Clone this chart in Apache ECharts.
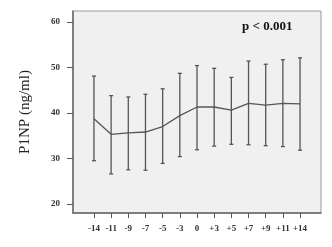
<!DOCTYPE html>
<html><head><meta charset="utf-8">
<script src="https://cdn.jsdelivr.net/npm/echarts@6/dist/echarts.min.js"></script>
<style>html,body{margin:0;padding:0;background:#fff}#c{width:332px;height:247px}</style>
</head><body><div id="c"></div>
<script>
var categories = ['-14','-11','-9','-7','-5','-3','0','+3','+5','+7','+9','+11','+14'];
var means = [38.7, 35.3, 35.6, 35.8, 37.0, 39.4, 41.3, 41.3, 40.6, 42.1, 41.7, 42.1, 42.0];
var upper = [48.1, 43.8, 43.5, 44.1, 45.3, 48.7, 50.4, 49.8, 47.8, 51.4, 50.7, 51.7, 52.1];
var lower = [29.5, 26.6, 27.5, 27.4, 28.9, 30.4, 31.9, 32.7, 33.1, 33.0, 32.8, 32.6, 31.8];
var yTicks = [20, 30, 40, 50, 60];

var idx = categories.map(function(_, i){ return i; });
var chart = echarts.init(document.getElementById('c'));
var serif = '"Liberation Serif", "DejaVu Serif", serif';
chart.setOption({
  animation: false,
  grid: {left: 73, top: 11, width: 248, height: 202, show: true, backgroundColor: '#f0f0f0', borderColor: '#9a9a9a', borderWidth: 1},
  xAxis: {
    type: 'value', min: -1.22, max: 13.22,
    axisLine: {show: true, onZero: false, lineStyle: {color: '#666', width: 1.5}},
    axisTick: {show: true, length: 5, customValues: idx, lineStyle: {color: '#555'}},
    axisLabel: {customValues: idx, formatter: function(v){ return categories[Math.round(v)]; }, margin: 11, fontFamily: serif, fontWeight: 'bold', fontSize: 9, color: '#333'},
    splitLine: {show: false}
  },
  yAxis: {
    type: 'value', min: 18, max: 62.4,
    name: 'P1NP (ng/ml)', nameLocation: 'middle', nameGap: 40,
    nameTextStyle: {fontFamily: serif, fontSize: 15, color: '#222'},
    axisLine: {show: true, onZero: false, lineStyle: {color: '#666', width: 1.5}},
    axisTick: {show: true, length: 6, customValues: yTicks, lineStyle: {color: '#555'}},
    axisLabel: {customValues: yTicks, margin: 13, fontFamily: serif, fontWeight: 'bold', fontSize: 9, color: '#333'},
    splitLine: {show: false}
  },
  graphic: [{type: 'text', left: 242, top: 20, style: {text: 'p < 0.001', font: 'bold 13px ' + serif, fill: '#111'}}],
  series: [
    {
      type: 'custom',
      data: idx.map(function(i){ return [i, lower[i], upper[i]]; }),
      renderItem: function(params, api){
        var x = api.value(0);
        var lo = api.coord([x, api.value(1)]);
        var hi = api.coord([x, api.value(2)]);
        var s = {stroke: '#555', lineWidth: 1.3};
        return {type: 'group', children: [
          {type: 'line', shape: {x1: lo[0], y1: lo[1], x2: hi[0], y2: hi[1]}, style: s},
          {type: 'line', shape: {x1: lo[0]-2, y1: lo[1], x2: lo[0]+2, y2: lo[1]}, style: s},
          {type: 'line', shape: {x1: hi[0]-2, y1: hi[1], x2: hi[0]+2, y2: hi[1]}, style: s}
        ]};
      },
      z: 2
    },
    {
      type: 'line',
      data: idx.map(function(i){ return [i, means[i]]; }),
      symbol: 'none',
      lineStyle: {color: '#555', width: 1.3},
      z: 3
    }
  ]
});
</script></body></html>
